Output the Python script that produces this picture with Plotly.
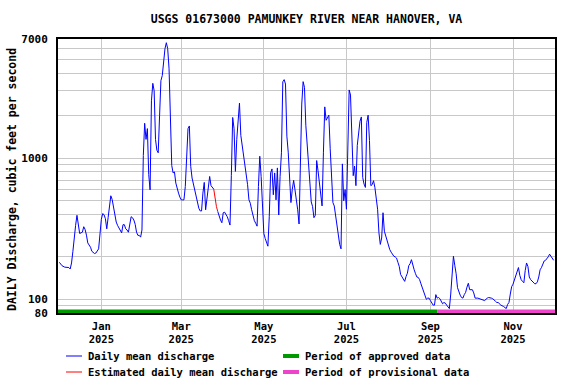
import pandas as pd
import numpy as np
import plotly.graph_objects as go

# daily mean discharge read off the USGS hydrograph
# day = days since 2024-12-01, flow = cubic feet per second
START = "2024-12-01"

day = [
    0, 2, 4, 7, 8, 9, 10, 11, 12, 13, 14, 15, 16, 17, 18, 19, 20, 21, 23, 24,
    26, 27, 29, 30, 31, 32, 33, 34, 35, 36, 37, 38, 39, 40, 41, 42, 43, 44, 45, 46,
    47, 48, 49, 50, 51, 52, 53, 54, 55, 56, 57, 58, 59, 60, 61, 62, 63, 64, 65, 66,
    67, 68, 69, 70, 71, 72, 73, 74, 75, 76, 77, 78, 79, 80, 81, 82, 83, 84, 85, 86,
    87, 88, 89, 90, 91, 92, 93, 94, 95, 96, 97, 98, 99, 100, 101, 102, 103, 104, 105, 106,
    107, 108, 109, 110, 111, 112, 113, 114, 115, 116, 117, 118, 119, 120, 121, 122, 123, 124, 125, 126,
    127, 128, 129, 130, 131, 132, 133, 134, 135, 136, 137, 138, 139, 140, 141, 142, 143, 144, 145, 146,
    147, 148, 149, 150, 151, 152, 153, 154, 155, 156, 157, 158, 159, 160, 161, 162, 163, 164, 165, 166,
    167, 168, 169, 170, 171, 172, 173, 174, 175, 176, 177, 178, 179, 180, 181, 182, 183, 184, 185, 186,
    187, 188, 189, 190, 191, 192, 193, 194, 195, 196, 197, 198, 199, 200, 201, 202, 203, 204, 205, 206,
    207, 208, 209, 210, 211, 212, 213, 214, 215, 216, 217, 218, 219, 220, 221, 222, 223, 224, 225, 226,
    227, 228, 229, 230, 231, 232, 233, 234, 235, 236, 237, 238, 239, 240, 241, 242, 243, 244, 245, 246,
    247, 248, 249, 250, 251, 252, 253, 254, 255, 256, 257, 258, 259, 260, 261, 262, 263, 264, 265, 266,
    267, 268, 269, 270, 271, 272, 273, 274, 275, 276, 277, 278, 279, 280, 281, 282, 283, 284, 285, 286,
    287, 288, 289, 290, 291, 292, 293, 294, 295, 296, 297, 298, 299, 300, 301, 302, 303, 304, 305, 306,
    307, 309, 310, 311, 312, 314, 316, 317, 319, 320, 322, 323, 324, 325, 326, 328, 329, 330, 331, 332,
    333, 334, 335, 336, 337, 338, 339, 340, 341, 342, 343, 344, 345, 346, 347, 348, 349, 350, 351, 352,
    353, 354, 355, 356, 357, 358, 359, 360, 361, 362, 363, 364, 365,
]

flow = [
    183, 173, 169, 168, 164, 181, 219, 281, 334, 394, 330, 293, 296, 299, 327, 313, 285, 251, 234, 219,
    211, 213, 228, 287, 369, 405, 398, 373, 316, 379, 472, 542, 510, 450, 400, 353, 334, 321, 314, 296,
    338, 338, 316, 310, 299, 340, 385, 379, 365, 340, 299, 284, 284, 276, 310, 1045, 1770, 1360, 1622, 765,
    597, 2552, 3396, 3010, 1360, 1140, 1093, 1995, 3548, 3855, 5128, 5976, 6590, 5976, 4302, 1649, 887, 787, 800, 667,
    604, 566, 530, 507, 507, 507, 631, 1033, 1622, 1693, 877, 724, 649, 581, 535, 493, 442, 423, 423, 566,
    674, 431, 535, 649, 743, 639, 615, 604, 513, 454, 418, 385, 365, 349, 411, 415, 402, 385, 361, 336,
    752, 1945, 1622, 807, 1360, 1945, 2460, 1452, 1253, 1045, 902, 765, 649, 507, 480, 431, 385, 361, 346, 330,
    631, 1033, 743, 431, 293, 270, 249, 238, 385, 787, 840, 551, 787, 507, 854, 396, 743, 1093, 3480, 3606,
    3356, 1435, 1104, 787, 485, 600, 697, 597, 521, 431, 342, 1033, 2421, 3490, 3180, 1714, 1267, 862, 639, 490,
    454, 379, 394, 963, 817, 656, 542, 459, 1104, 2312, 1858, 1962, 2019, 1167, 639, 485, 459, 390, 349, 296,
    245, 228, 912, 499, 600, 435, 963, 3048, 2804, 1232, 752, 880, 639, 1232, 1534, 1830, 1962, 731, 656, 621,
    1790, 2019, 1338, 639, 650, 693, 621, 513, 435, 296, 245, 272, 411, 304, 281, 266, 238, 225, 216, 208,
    202, 200, 196, 183, 171, 150, 144, 138, 134, 145, 153, 173, 179, 191, 171, 162, 152, 144, 143, 138,
    129, 120, 113, 106, 100, 102, 102, 98, 93, 91, 91, 108, 102, 103, 101, 97, 93, 95, 94, 91,
    88, 86, 109, 152, 202, 174, 152, 121, 112, 107, 103, 102, 108, 112, 122, 130, 117, 117, 117, 111,
    102, 102, 101, 101, 99, 98, 102, 103, 102, 101, 97, 95, 95, 93, 91, 89, 87, 86, 92, 95,
    109, 123, 128, 138, 148, 156, 168, 148, 138, 134, 131, 160, 181, 171, 144, 138, 135, 133, 129, 129,
    133, 144, 162, 168, 179, 187, 189, 194, 200, 209, 202, 198, 189,
]

# estimated values (drawn in red)
EST_START = "2025-03-25"
EST_END = "2025-03-28"

# approval status periods
APPROVED = ["2024-11-30", "2025-09-06"]
PROVISIONAL = ["2025-09-06", "2025-12-02"]

X_RANGE = ["2024-11-30", "2025-12-02"]

# y axis grid: every 1-2-...-9 step, only a few labelled
y_grid = [80, 90, 100, 200, 300, 400, 500, 600, 700, 800, 900,
          1000, 2000, 3000, 4000, 5000, 6000, 7000]
y_labels = ["80", "", "100", "", "", "", "", "", "", "", "",
            "1000", "", "", "", "", "", "7000"]

x_ticks = ["2025-01-01", "2025-03-01", "2025-05-01",
           "2025-07-01", "2025-09-01", "2025-11-01"]
x_labels = ["Jan<br>2025", "Mar<br>2025", "May<br>2025",
            "Jul<br>2025", "Sep<br>2025", "Nov<br>2025"]

Y_TITLE = "DAILY Discharge, cubic feet per second"

BAR_LEVEL = 82  # status bar sits on the bottom of the plot

BLUE = "#0000ff"
RED = "#ff0000"
GREEN = "#009900"
PINK = "#ee44cc"

FONT = "DejaVu Sans Mono"

# legend entries: label, colour, sample thickness
legend_items = [
    ("Daily mean discharge", BLUE, 1),
    ("Estimated daily mean discharge", RED, 1),
    ("Period of approved data", GREEN, 4),
    ("Period of provisional data", PINK, 4),
]

# ── build series ───────────────────────────────────────────────
df = pd.DataFrame({"date": pd.Timestamp(START) + pd.to_timedelta(day, unit="D"),
                   "flow": flow})

est_mask = (df["date"] >= EST_START) & (df["date"] <= EST_END)
inner_est = (df["date"] > EST_START) & (df["date"] < EST_END)

blue = df["flow"].where(~inner_est)
red = df[est_mask]

fig = go.Figure()

fig.add_trace(go.Scatter(
    x=df["date"], y=blue,
    mode="lines",
    name="Daily mean discharge",
    line=dict(color=BLUE, width=1),
    connectgaps=False,
))

fig.add_trace(go.Scatter(
    x=red["date"], y=red["flow"],
    mode="lines",
    name="Estimated daily mean discharge",
    line=dict(color=RED, width=1),
))

fig.add_trace(go.Scatter(
    x=APPROVED, y=[BAR_LEVEL, BAR_LEVEL],
    mode="lines",
    name="Period of approved data",
    line=dict(color=GREEN, width=4),
))

fig.add_trace(go.Scatter(
    x=PROVISIONAL, y=[BAR_LEVEL, BAR_LEVEL],
    mode="lines",
    name="Period of provisional data",
    line=dict(color=PINK, width=4),
))

# ── legend drawn by hand: 2 columns x 2 rows below the axis ────
# plot area is 497 x 274 px; convert legend pixel offsets to paper units
PW, PH = 497, 274
col_x = [8, 225]        # px from plot left where the sample line starts
row_y = [43, 59]        # px below plot bottom
SAMPLE_LEN = 16
TEXT_GAP = 4

for i, (label, color, thick) in enumerate(legend_items):
    col, row = i // 2, i % 2
    x0 = col_x[col] / PW
    x1 = (col_x[col] + SAMPLE_LEN) / PW
    yy = -row_y[row] / PH
    fig.add_shape(type="line", xref="paper", yref="paper",
                  x0=x0, x1=x1, y0=yy, y1=yy,
                  line=dict(color=color, width=thick))
    fig.add_annotation(xref="paper", yref="paper",
                       x=(col_x[col] + SAMPLE_LEN + TEXT_GAP) / PW, y=yy,
                       xanchor="left", yanchor="middle",
                       text=label, showarrow=False,
                       font=dict(size=10.5))

# y axis title, sitting slightly low like the original
fig.add_annotation(xref="paper", yref="paper",
                   x=-46 / PW, y=133 / PH,
                   xanchor="center", yanchor="middle",
                   text=Y_TITLE, textangle=-90, showarrow=False,
                   font=dict(size=11.5))

fig.update_layout(
    width=576, height=384,
    margin=dict(l=58, r=21, t=39, b=71, autoexpand=False),
    paper_bgcolor="white",
    plot_bgcolor="white",
    font=dict(family=FONT, color="black", size=11, weight="bold"),
    title=dict(
        text="USGS 01673000 PAMUNKEY RIVER NEAR HANOVER, VA",
        font=dict(family=FONT, size=11.5, weight="bold", color="black"),
        xref="paper", x=0.5, xanchor="center", y=0.95, yanchor="middle",
    ),
    xaxis=dict(
        range=X_RANGE,
        tickvals=x_ticks, ticktext=x_labels,
        tickfont=dict(size=10.5),
        showgrid=True, gridcolor="#c8c8c8", gridwidth=1,
        showline=True, linecolor="black", linewidth=2, mirror=True,
        ticks="", ticklabelstandoff=2,
        zeroline=False, automargin=False,
    ),
    yaxis=dict(
        type="log",
        range=[np.log10(80), np.log10(7000)],
        tickvals=y_grid, ticktext=y_labels,
        tickfont=dict(size=11),
        showgrid=True, gridcolor="#c8c8c8", gridwidth=1,
        showline=True, linecolor="black", linewidth=2, mirror=True,
        ticks="", ticklabelstandoff=6,
        zeroline=False, automargin=False,
    ),
    showlegend=False,
)

# the page body has a default 8px margin; drop it so the figure fills the window
fig.write_html("out.html",
               config={"displayModeBar": False},
               post_script="document.body.style.margin='0';")
